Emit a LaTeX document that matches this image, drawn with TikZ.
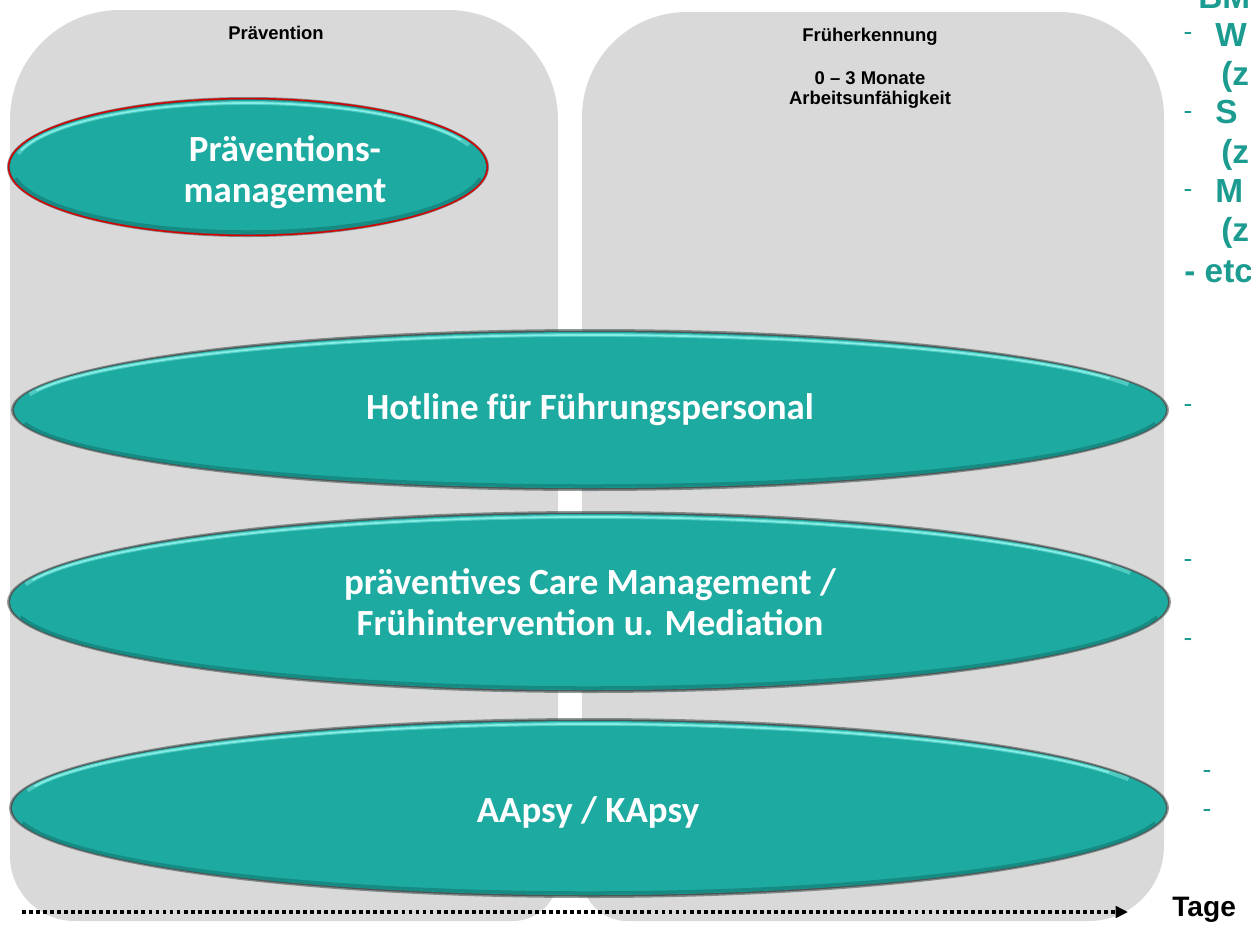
\documentclass[tikz,border=0pt]{standalone}
\usepackage{fontspec}
\setmainfont{Liberation Sans}
\newfontfamily\calib{Carlito}
\usetikzlibrary{calc,arrows.meta}
\definecolor{colgray}{HTML}{D9D9D9}
\definecolor{tealf}{HTML}{1DAAA0}
\definecolor{tealdk}{HTML}{0F6E68}
\definecolor{tealhi}{HTML}{8AF2EA}
\definecolor{rim}{HTML}{3C4A48}
\definecolor{txtteal}{HTML}{1C9C90}
\newcommand\bevelell[4]{%
  \fill[rim,opacity=.55] (#1,#2) ellipse [x radius=#3+3, y radius=#4+3];
  \fill[rim,opacity=.8] (#1,#2) ellipse [x radius=#3+1.5, y radius=#4+1.5];
  \fill[tealf] (#1,#2) ellipse [x radius=#3, y radius=#4];
  \draw[tealdk,line width=2pt,opacity=.5] ($(#1,#2)+({cos(190)*(#3-2)},{sin(190)*(#4-2)})$) arc[start angle=190,end angle=350,x radius=#3-2,y radius=#4-2];
  \draw[tealhi,line width=2.2pt,opacity=.45] ($(#1,#2)+({cos(20)*(#3-3)},{sin(20)*(#4-3)})$) arc[start angle=20,end angle=168,x radius=#3-3,y radius=#4-3];
  \draw[tealhi,line width=1pt,opacity=.9] ($(#1,#2)+({cos(25)*(#3-3)},{sin(25)*(#4-3)})$) arc[start angle=25,end angle=165,x radius=#3-3,y radius=#4-3];
}
\begin{document}
\begin{tikzpicture}[x=0.02cm,y=0.02cm,
  lbl/.style={font=\bfseries\fontsize{10.5}{11.6}\selectfont,align=center,inner sep=0},
  etext/.style={font=\calib\bfseries\fontsize{21}{23.3}\selectfont,text=white,align=center,inner sep=0},
  rtxt/.style={font=\bfseries\fontsize{19}{22}\selectfont,text=txtteal,anchor=base west,inner sep=0},
  rdash/.style={font=\fontsize{15}{18}\selectfont,text=txtteal,anchor=center,inner sep=0}]
\useasboundingbox (0,0) rectangle (1251,-937);
\clip (0,0) rectangle (1251,-937);
% column backgrounds
\fill[colgray] (10,-120) arc[start angle=180,end angle=90,radius=110] -- (448,-10)
  arc[start angle=90,end angle=0,radius=110] -- (558,-876)
  arc[start angle=0,end angle=-90,radius=45] -- (75,-921)
  arc[start angle=-90,end angle=-180,radius=65] -- cycle;
\fill[colgray] (582,-117) arc[start angle=180,end angle=90,radius=105] -- (1059,-12)
  arc[start angle=90,end angle=0,radius=105] -- (1164,-846)
  arc[start angle=0,end angle=-90,radius=75] -- (627,-921)
  arc[start angle=-90,end angle=-180,radius=45] -- cycle;
% ellipses
\bevelell{248}{-167}{238}{67}
\draw[red!85!black,line width=0.8pt] (248,-167) ellipse [x radius=239.5, y radius=68.5];
\bevelell{590}{-410}{576}{78}
\bevelell{589}{-602}{579}{88}
\bevelell{589}{-808}{577}{87}
% headings
\node[lbl] (prae) at (276,-33) {Prävention};
\node[lbl] (frueh) at (870,-37) {Früherkennung};
\node[lbl] (mon) at (870,-90) {0 – 3 Monate\\Arbeitsunfähigkeit};
% ellipse texts
\node[etext] (pm) at (285,-172) {Präventions-\\management};
\node[etext] (hl) at (590,-410) {Hotline für Führungspersonal};
\node[etext] (cm) at (590,-602) {präventives Care Management /\\Frühintervention u. Mediation};
\node[etext] (aa) at (588,-812) {AApsy / KApsy};
% right text (cut off at the picture edge)
\node[rtxt] (r0) at (1198,-8) {BMV};
\node[rdash] (d1) at (1188,-36) {-};
\node[rtxt] (r1) at (1215,-46) {W};
\node[rtxt] (r2) at (1221,-85) {(z};
\node[rdash] (d2) at (1188,-115) {-};
\node[rtxt] (r3) at (1215,-123) {S};
\node[rtxt] (r4) at (1221,-163) {(z};
\node[rdash] (d3) at (1188,-193) {-};
\node[rtxt] (r5) at (1215,-202) {M};
\node[rtxt] (r6) at (1221,-241) {(z};
\node[rtxt] (r7) at (1184,-282) {- etc};
\node[rdash] (d4) at (1188,-408) {-};
\node[rdash] (d5) at (1188,-563) {-};
\node[rdash] (d6) at (1188,-642) {-};
\node[rdash] (d7) at (1207,-774) {-};
\node[rdash] (d8) at (1207,-813) {-};
% time axis
\node[font=\bfseries\fontsize{16}{18}\selectfont,anchor=west,inner sep=0] (tage) at (1172,-910) {Tage};
\coordinate (as) at (22,-912);
\coordinate (ae) at (1128,-912);
\draw[line width=2pt,dash pattern=on 2.2pt off 1.8pt,-{Triangle[length=7pt,width=6.5pt]}] (as) -- (ae);
\end{tikzpicture}
\end{document}
